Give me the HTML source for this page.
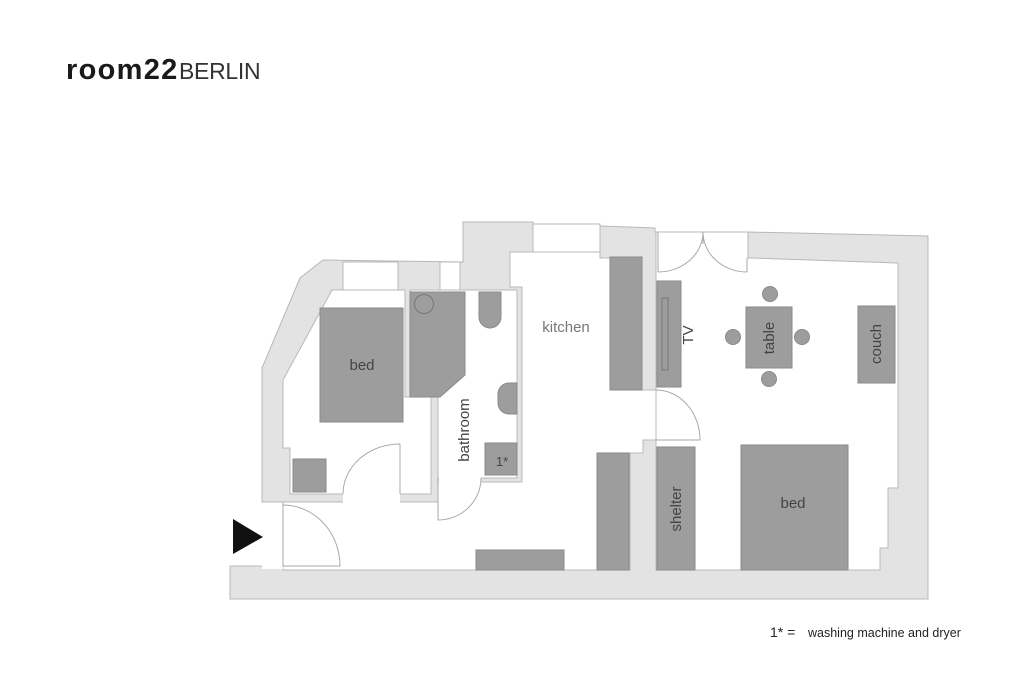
<!DOCTYPE html>
<html><head><meta charset="utf-8"><style>
html,body{margin:0;padding:0;background:#fff;width:1024px;height:687px;overflow:hidden}
svg{display:block}
text{font-family:"Liberation Sans",sans-serif}
</style></head><body>
<svg width="1024" height="687" viewBox="0 0 1024 687" xmlns="http://www.w3.org/2000/svg">
<text x="66" y="79" font-size="29" font-weight="bold" fill="#1a1a1a" letter-spacing="1.3">room22</text>
<text x="179" y="79" font-size="23" fill="#333" letter-spacing="-0.3">BERLIN</text>

<!-- building walls -->
<polygon points="230,570 230,599 928,599 928,236 748,232 655,232 655,228 600,226 533,224 533,222 463,222 463,262 323,260 300,278 262,368 262,502 283,502 283,566 230,566" fill="#e3e3e3" stroke="#b8b8b8" stroke-width="1"/>

<!-- rooms -->
<g fill="#fff" stroke="#b8b8b8" stroke-width="1">
<polygon points="290,494 290,448 283,448 283,380 332,290 405,290 405,397 431,397 431,494"/>
<polygon points="410,290 517,290 517,478 438,478 438,397 410,397"/>
<polygon points="510,252 600,252 600,258 642,258 642,390 656,390 656,440 643,440 643,453 630,453 630,570 283,570 283,502 438,502 438,482 522,482 522,287 510,287"/>
<polygon points="656,232 748,232 748,258 752,258 898,263 898,488 888,488 888,548 880,548 880,570 656,570"/>
<!-- windows -->
<rect x="343" y="262" width="55" height="28"/>
<rect x="440" y="262" width="20" height="28"/>
<rect x="533" y="224" width="67" height="28"/>
</g>
<!-- openings (white patches) -->
<g fill="#fff">
<rect x="343" y="493" width="57" height="10"/>
<rect x="439" y="477" width="42" height="6"/>
<rect x="262" y="503" width="21" height="66"/>
<rect x="657" y="233" width="90" height="30"/>
</g>

<!-- furniture -->
<g fill="#9d9d9d" stroke="#8a8a8a" stroke-width="1">
<rect x="320" y="308" width="83" height="114"/>
<rect x="293" y="459" width="33" height="33"/>
<polygon points="410,292 465,292 465,375 440,397 410,397"/>
<path d="M479,292 H501 V317 A11,11 0 0 1 479,317 Z"/>
<path d="M517,383 V414 H509 A11,11 0 0 1 498,403 V394 A11,11 0 0 1 509,383 Z"/>
<rect x="485" y="443" width="32" height="32"/>
<rect x="610" y="257" width="32" height="133"/>
<rect x="657" y="281" width="24" height="106"/>
<rect x="746" y="307" width="46" height="61"/>
<circle cx="770" cy="294" r="7.5"/>
<circle cx="733" cy="337" r="7.5"/>
<circle cx="802" cy="337" r="7.5"/>
<circle cx="769" cy="379" r="7.5"/>
<rect x="858" y="306" width="37" height="77"/>
<rect x="741" y="445" width="107" height="125"/>
<rect x="657" y="447" width="38" height="123"/>
<rect x="597" y="453" width="32" height="117"/>
<rect x="476" y="550" width="88" height="20"/>
</g>
<circle cx="424" cy="304" r="9.5" fill="none" stroke="#777" stroke-width="1"/>
<rect x="662" y="298" width="6" height="72" fill="none" stroke="#777" stroke-width="1"/>

<!-- doors -->
<g fill="none" stroke="#aaa" stroke-width="1">
<path d="M283,503 V566 H340 A57,61 0 0 0 283,505"/>
<path d="M400,494 V444 A57,50 0 0 0 343,494"/>
<path d="M438,478 V520 A43,42 0 0 0 481,478"/>
<path d="M656,440 H700 A44,50 0 0 0 656,390"/>
<path d="M658,232 V272 M703,232 V244 M703,232 A45,40 0 0 1 658,272 M703,232 A44,40 0 0 0 747,272 M747,258 V272"/>
</g>

<polygon points="233,519 263,537 233,554" fill="#111"/>

<!-- labels -->
<g fill="#444" font-size="15">
<text x="362" y="370" text-anchor="middle">bed</text>
<text x="566" y="332" text-anchor="middle" fill="#777">kitchen</text>
<text x="793" y="508" text-anchor="middle">bed</text>
<text x="502" y="466" font-size="13" text-anchor="middle">1*</text>
<text transform="translate(469,430) rotate(-90)" text-anchor="middle">bathroom</text>
<text transform="translate(693,335) rotate(-90)" text-anchor="middle">TV</text>
<text transform="translate(774,338) rotate(-90)" text-anchor="middle">table</text>
<text transform="translate(881,344) rotate(-90)" text-anchor="middle">couch</text>
<text transform="translate(681,509) rotate(-90)" text-anchor="middle">shelter</text>
</g>
<text x="770" y="637" font-size="14" fill="#222">1* =</text>
<text x="808" y="637" font-size="12.5" fill="#222">washing machine and dryer</text>
</svg>
</body></html>
